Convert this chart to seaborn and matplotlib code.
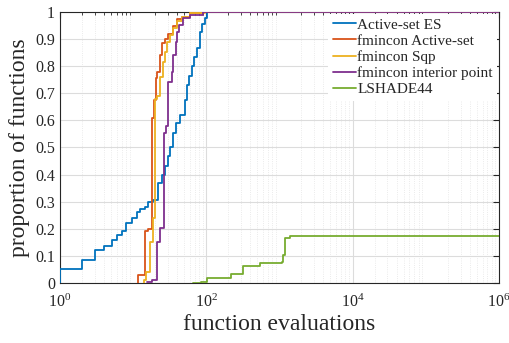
import numpy as np
import pandas as pd
import matplotlib
matplotlib.use("Agg")
import matplotlib.pyplot as plt
import seaborn as sns
from matplotlib.ticker import LogLocator, FixedLocator, FuncFormatter, NullFormatter

# ---- data (breakpoints of the performance/data profiles) ----
es_x = [1, 1, 2.02, 3.05, 4.05, 5.1, 6.04, 7.07, 8.0, 9.6, 11.2, 12.5, 14.6, 16.0, 18.7, 21.9,
        24.5, 27.3, 30.0, 32.0, 35.2, 39.0, 43.8, 51.3, 54.1, 58.5, 63.2, 68.5, 74.1, 82.2, 88.0, 96.3, 103.5, 1e6]
es_y = [0.0, 0.05, 0.084, 0.122, 0.137, 0.158, 0.177, 0.193, 0.22, 0.241, 0.261, 0.272, 0.28, 0.30, 0.306, 0.369,
        0.40, 0.43, 0.47, 0.503, 0.553, 0.59, 0.62, 0.675, 0.73, 0.765, 0.80, 0.835, 0.867, 0.927, 0.955, 0.977, 1.0, 1.0]

fa_x = [11.8, 11.8, 14.5, 16.1, 18.3, 19.5, 20.6, 21.4, 23.3, 25.1, 27.3, 30.3, 35.5, 39.5, 46.2, 60.0, 82.0, 1e6]
fa_y = [0.0, 0.03, 0.19, 0.20, 0.61, 0.675, 0.756, 0.78, 0.84, 0.884, 0.90, 0.92, 0.95, 0.974, 0.98, 0.995, 1.0, 1.0]

sqp_x = [14.2, 14.2, 15.0, 17.0, 18.5, 20.2, 21.4, 23.3, 25.4, 27.3, 29.4, 32.0, 35.5, 39.5, 46.2, 60.0, 96.0, 1e6]
sqp_y = [0.0, 0.01, 0.04, 0.15, 0.24, 0.68, 0.69, 0.76, 0.817, 0.853, 0.89, 0.915, 0.94, 0.965, 0.98, 0.995, 1.0, 1.0]

ip_x = [15.5, 18.1, 20.9, 23.3, 26.7, 28.6, 30.3, 33.7, 35.5, 38.6, 40.2, 42.9, 48.6, 60.0, 90.4, 1e6]
ip_y = [0.003, 0.01, 0.152, 0.203, 0.553, 0.58, 0.743, 0.78, 0.84, 0.89, 0.927, 0.952, 0.977, 0.989, 1.0, 1.0]

ls_x = [66.6, 85.0, 101.6, 150.0, 216.0, 322.0, 545.0, 1078.0, 1135.0, 1197.0, 1400.0, 1e6]
ls_y = [0.0, 0.005, 0.017, 0.019, 0.032, 0.063, 0.072, 0.079, 0.103, 0.167, 0.173, 0.173]

names = ["Active-set ES", "fmincon Active-set", "fmincon Sqp", "fmincon interior point", "LSHADE44"]
colors = ["#0072BD", "#D95319", "#EDB120", "#7E2F8E", "#77AC30"]
series = [(es_x, es_y), (fa_x, fa_y), (sqp_x, sqp_y), (ip_x, ip_y), (ls_x, ls_y)]

xtick_vals = [1, 1e2, 1e4, 1e6]
ytick_vals = [0, 0.1, 0.2, 0.3, 0.4, 0.5, 0.6, 0.7, 0.8, 0.9, 1.0]

sns.set_style("white")
plt.rcParams["font.family"] = ["Liberation Serif", "DejaVu Serif"]
plt.rcParams["mathtext.fontset"] = "custom"
plt.rcParams["mathtext.rm"] = "Liberation Serif"
plt.rcParams["mathtext.it"] = "Liberation Serif:italic"

fig = plt.figure(figsize=(5.10, 3.43), dpi=100)
ax = fig.add_axes([0.1176, 0.175, 0.8604, 0.790])

for (xs, ys), name, c in zip(series, names, colors):
    df = pd.DataFrame({"x": xs, "y": ys})
    sns.lineplot(data=df, x="x", y="y", ax=ax, color=c, label=name, linewidth=1.3,
                 drawstyle="steps-post", estimator=None, sort=False, zorder=3)

ax.set_xscale("log")
ax.set_xlim(1, 1e6)
ax.set_ylim(0, 1)

ax.xaxis.set_major_locator(FixedLocator(xtick_vals))
ax.xaxis.set_major_formatter(FuncFormatter(lambda v, p: r"$10^{%d}$" % int(round(np.log10(v)))))
ax.xaxis.set_minor_locator(LogLocator(base=10, subs=np.arange(2, 10), numticks=100))
ax.xaxis.set_minor_formatter(NullFormatter())
ax.yaxis.set_major_locator(FixedLocator(ytick_vals))
ax.yaxis.set_major_formatter(FuncFormatter(lambda v, p: "%g" % v))

ax.grid(True, which="major", color="#dcdcdc", linewidth=0.8, linestyle="-")
ax.grid(True, which="minor", axis="x", color="#e4e4e4", linewidth=0.6, linestyle=":")
ax.set_axisbelow(True)

for s in ax.spines.values():
    s.set_visible(True)
    s.set_color("#262626")
    s.set_linewidth(0.8)
    s.set_zorder(2.5)

ax.tick_params(which="both", direction="in", top=True, right=True, colors="#262626",
               labelcolor="#262626", labelsize=11.5)
ax.tick_params(which="major", length=4)
ax.tick_params(which="minor", length=2)
ax.tick_params(axis="x", which="major", pad=8)

ax.set_xlabel("function evaluations", fontsize=17, color="#262626", labelpad=2)
ax.set_ylabel("proportion of functions", fontsize=17, color="#262626", labelpad=4)

leg = ax.legend(loc="upper right", fontsize=11, frameon=True, facecolor="white", edgecolor="none",
                framealpha=1.0, handlelength=1.5, handletextpad=0.1, labelspacing=0.15,
                borderaxespad=0.1, borderpad=0.3, fancybox=False)
leg.set_zorder(5)
for t in leg.get_texts():
    t.set_color("#262626")

fig.savefig("out.png", dpi=100)
